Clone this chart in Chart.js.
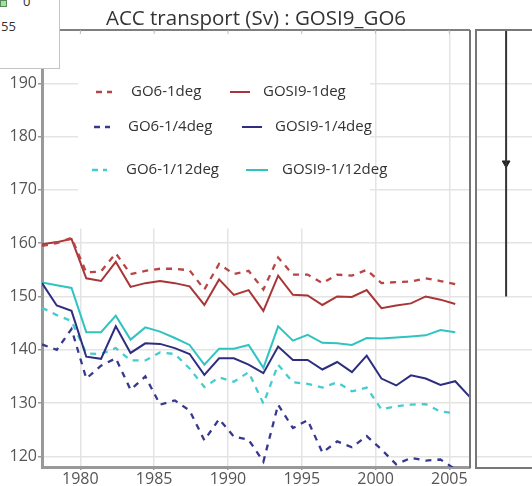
<!DOCTYPE html>
<html><head><meta charset="utf-8">
<script src="https://cdn.jsdelivr.net/npm/chart.js@4"></script>
<style>
html,body{margin:0;padding:0;background:#fff;width:532px;height:486px;overflow:hidden;position:relative;}
#main{position:absolute;left:0;top:0;}
#side{position:absolute;left:440px;top:0;}
#sframe{position:absolute;left:475px;top:29px;width:70px;height:436px;border-left:2px solid #777;border-top:2px solid #777;border-bottom:2px solid #777;}
#title{position:absolute;left:0;top:7px;width:512px;text-align:center;font:20.5px/20px 'Open Sans',sans-serif;color:#333;white-space:nowrap;}
#box{position:absolute;left:-1px;top:-1px;width:59px;height:68px;background:#fff;border:1px solid #c4c4c4;font:13px/13px 'Open Sans',sans-serif;color:#333;}
#box .sq{position:absolute;left:0;top:0;width:5px;height:5px;background:#9fe39f;border:1px solid #5a8a5a;}
#box .a{position:absolute;left:23px;top:-5px;}
#box .b{position:absolute;left:1px;top:20px;}
</style></head><body>
<canvas id="main" width="532" height="486"></canvas>
<canvas id="side" width="92" height="486"></canvas>
<div id="sframe"></div>
<div id="title">ACC transport (Sv) : GOSI9_GO6</div>
<div id="box"><div class="sq"></div><div class="a">0</div><div class="b">55</div></div>
<script>
// ---- data ----
const years = [1977.4,1978.4,1979.4,1980.4,1981.4,1982.4,1983.4,1984.4,1985.4,1986.4,1987.4,1988.4,1989.4,1990.4,1991.4,1992.4,1993.4,1994.4,1995.4,1996.4,1997.4,1998.4,1999.4,2000.4,2001.4,2002.4,2003.4,2004.4,2005.4,2006.4];
const go6_1deg   = [159.5,160.0,161.0,154.5,154.7,158.1,154.2,154.8,155.2,155.2,154.9,151.3,156.1,154.2,154.8,151.3,157.3,154.1,154.1,152.5,154.1,153.9,155.0,152.5,152.7,152.8,153.4,152.9,152.3];
const gosi9_1deg = [159.8,160.2,160.8,153.4,152.9,156.5,151.8,152.5,152.9,152.5,151.9,148.4,153.2,150.3,151.2,147.3,153.9,150.3,150.2,148.4,150.0,149.9,151.2,147.8,148.3,148.7,150.0,149.4,148.6];
const go6_4deg   = [141.0,140.0,143.9,134.6,137.0,138.4,132.5,135.0,129.7,130.5,128.6,123.0,127.0,123.7,123.1,119.0,129.7,125.3,126.8,120.7,122.8,121.7,123.8,121.3,118.5,119.7,119.2,119.4,117.6];
const gosi9_4deg = [152.5,148.3,147.3,138.7,138.3,144.4,139.4,141.2,141.1,140.3,139.2,135.3,138.4,138.4,137.2,135.6,140.6,138.1,138.1,136.3,137.7,135.8,138.9,134.6,133.3,135.2,134.6,133.4,134.1,131.1];
const go6_12deg  = [147.9,146.5,145.4,139.3,139.2,140.3,138.0,138.0,139.5,139.2,136.5,133.0,134.8,134.0,135.8,129.9,137.2,133.9,133.6,132.9,133.9,132.2,132.9,128.8,129.4,129.7,129.8,128.4,128.1];
const gosi9_12deg= [152.6,152.1,151.6,143.3,143.3,146.4,141.9,144.2,143.4,142.2,140.9,137.2,140.2,140.2,140.9,136.6,144.4,141.7,142.8,141.3,141.2,140.9,142.2,142.1,142.3,142.5,142.7,143.7,143.3];
const xTicks = [1980,1985,1990,1995,2000,2005];
const yTicks = [120,130,140,150,160,170,180,190];
const obsMean = 175;
const obsRange = [150, 200];

const TICKFONT = {family:"'Open Sans', sans-serif", size:16};
const pts = arr => arr.map((v,i)=>({x:years[i], y:v}));

function mk(label, arr, color, dashed){
  return {label, data: pts(arr), borderColor: color, backgroundColor: color,
    borderWidth: dashed ? 2.3 : 2, borderDash: dashed ? [6,6] : [], pointRadius: 0,
    tension: 0, fill: false};
}
const datasets = [
  mk('GO6-1deg', go6_1deg, '#b84444', true),
  mk('GOSI9-1deg', gosi9_1deg, '#a83636', false),
  mk('GO6-1/4deg', go6_4deg, '#38388e', true),
  mk('GOSI9-1/4deg', gosi9_4deg, '#2e2e80', false),
  mk('GO6-1/12deg', go6_12deg, '#45cccc', true),
  mk('GOSI9-1/12deg', gosi9_12deg, '#30c4c0', false)
];

// legend layout (index into datasets, line start/end, text x, row y)
const legendItems = [
  {i:0, x0:96, x1:112, tx:131, y:92},
  {i:1, x0:230, x1:250, tx:263, y:92},
  {i:2, x0:94, x1:110, tx:128, y:127},
  {i:3, x0:242, x1:262, tx:275, y:127},
  {i:4, x0:92, x1:107, tx:126, y:170},
  {i:5, x0:246, x1:268, tx:282, y:170}
];

const insetLegend = {
  id:'insetLegend',
  beforeDatasetsDraw(chart){
    const ctx = chart.ctx, ca = chart.chartArea;
    ctx.save();
    ctx.fillStyle = '#fff';
    ctx.fillRect(ca.left+36, ca.top+1.5, 292, 197);
    ctx.font = "15px 'Open Sans', sans-serif";
    ctx.textBaseline = 'middle';
    ctx.fillStyle = '#333';
    legendItems.forEach(it=>{
      const ds = chart.data.datasets[it.i];
      ctx.strokeStyle = ds.borderColor;
      ctx.lineWidth = ds.borderWidth;
      ctx.setLineDash(ds.borderDash.length ? [6,5] : []);
      ctx.beginPath(); ctx.moveTo(it.x0, it.y); ctx.lineTo(it.x1, it.y); ctx.stroke();
      ctx.setLineDash([]);
      ctx.fillText(ds.label, it.tx, it.y);
    });
    ctx.restore();
  }
};
const mainFrame = {
  id:'mainFrame',
  afterDraw(chart){
    const ctx = chart.ctx, ca = chart.chartArea, xs = chart.scales.x;
    ctx.save();
    ctx.strokeStyle = '#555'; ctx.lineWidth = 1.5;
    ctx.beginPath(); ctx.moveTo(ca.left, ca.top); ctx.lineTo(ca.right, ca.top); ctx.stroke();
    ctx.strokeStyle = '#777'; ctx.lineWidth = 2;
    ctx.beginPath(); ctx.moveTo(ca.right, ca.top); ctx.lineTo(ca.right, ca.bottom+1); ctx.stroke();
    ctx.strokeStyle = '#bbb'; ctx.lineWidth = 1;
    xTicks.forEach(v=>{ const p = xs.getPixelForValue(v);
      ctx.beginPath(); ctx.moveTo(p, ca.top); ctx.lineTo(p, ca.top+4); ctx.stroke(); });
    ctx.restore();
  }
};

new Chart(document.getElementById('main'), {
  type:'line',
  data:{datasets},
  options:{
    responsive:false, animation:false, devicePixelRatio:1,
    layout:{autoPadding:false, padding:{top:30, right:62, left:0, bottom:0}},
    plugins:{legend:{display:false}, tooltip:{enabled:false}, title:{display:false}},
    scales:{
      x:{type:'linear', min:years[0], max:years[years.length-1],
         afterBuildTicks: a => { a.ticks = xTicks.map(v=>({value:v})); },
         afterFit: s => { s.height = 19; },
         grid:{color:'#e4e4e4', lineWidth:1.5, tickLength:3, tickColor:'#999'},
         border:{display:true, color:'#999', width:3},
         ticks:{font:TICKFONT, color:'#555', padding:0, maxRotation:0, autoSkip:false, callback: v => String(v)}},
      y:{type:'linear', min:118, max:200,
         afterBuildTicks: a => { a.ticks = yTicks.map(v=>({value:v})); },
         afterFit: s => { s.width = 42; },
         grid:{color:'#e4e4e4', lineWidth:1.5, tickLength:4, tickColor:'#999'},
         border:{display:true, color:'#999', width:3},
         ticks:{font:TICKFONT, color:'#555', padding:1, callback: v => String(v)}}
    }
  },
  plugins:[insetLegend, mainFrame]
});

new Chart(document.getElementById('side'), {
  type:'line',
  data:{datasets:[
    {data: obsRange.map(v=>({x:0.5, y:v})), borderColor:'#333', borderWidth:2, pointRadius:0},
    {data:[{x:0.5, y:obsMean}], showLine:false, pointStyle:'triangle', rotation:180, pointRadius:4.5,
     backgroundColor:'#222', borderColor:'#222'}
  ]},
  options:{
    responsive:false, animation:false, devicePixelRatio:1,
    layout:{autoPadding:false, padding:{top:30, bottom:19, left:0, right:0}},
    plugins:{legend:{display:false}, tooltip:{enabled:false}},
    scales:{
      x:{type:'linear', min:0, max:0.93, display:false},
      y:{type:'linear', min:118, max:200,
         afterBuildTicks: a => { a.ticks = yTicks.map(v=>({value:v})); },
         afterFit: s => { s.width = 36; },
         ticks:{display:false},
         grid:{color:'#e4e4e4', lineWidth:1.5, drawTicks:false},
         border:{display:false}}
    }
  }
});
</script>
</body></html>
